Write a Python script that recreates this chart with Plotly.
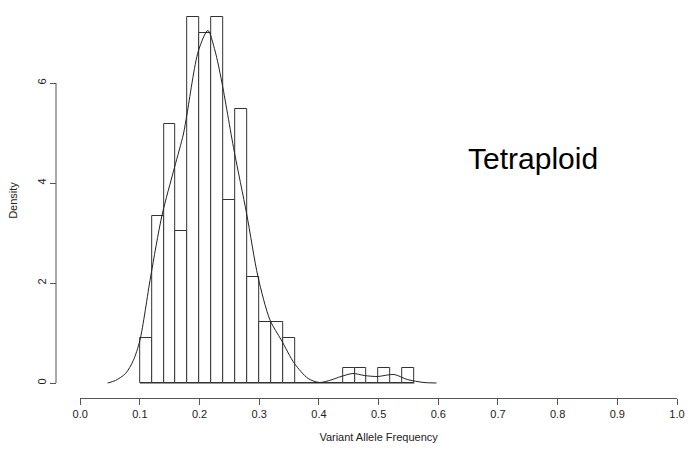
import plotly.graph_objects as go

# Histogram bins (left edges) and density heights
bin_width = 0.02
bin_left = [0.10, 0.12, 0.14, 0.16, 0.18, 0.20, 0.22, 0.24, 0.26, 0.28, 0.30,
            0.32, 0.34, 0.36, 0.38, 0.40, 0.42, 0.44, 0.46, 0.48, 0.50, 0.52, 0.54]
bin_density = [0.91, 3.35, 5.18, 3.05, 7.32, 7.01, 7.32, 3.66, 5.49, 2.13, 1.22,
               1.22, 0.91, 0.0, 0.0, 0.0, 0.0, 0.30, 0.30, 0.0, 0.30, 0.0, 0.30]

# Kernel density curve
kde_x = [0.046, 0.059, 0.076, 0.089, 0.100, 0.118, 0.137, 0.158, 0.173, 0.179,
         0.198, 0.214, 0.226, 0.237, 0.258, 0.279, 0.298, 0.318, 0.337, 0.359,
         0.382, 0.401, 0.420, 0.437, 0.457, 0.476, 0.498, 0.526, 0.548, 0.576, 0.597]
kde_y = [0.0, 0.05, 0.19, 0.45, 0.85, 2.12, 3.35, 4.31, 4.98, 5.38,
         6.64, 7.05, 6.64, 6.04, 4.64, 3.38, 2.12, 1.26, 0.86, 0.39,
         0.09, 0.01, 0.06, 0.13, 0.19, 0.15, 0.13, 0.17, 0.07, 0.01, 0.0]

x_ticks = [0.0, 0.1, 0.2, 0.3, 0.4, 0.5, 0.6, 0.7, 0.8, 0.9, 1.0]
y_ticks = [0, 2, 4, 6]

label_text = "Tetraploid"
x_title = "Variant Allele Frequency"
y_title = "Density"

W, H = 688, 452
ml, mr, mt, mb = 56, 8, 3, 54
plot_w = W - ml - mr
x0_px = 80.3 - ml
x_dom_start = x0_px / plot_w

fig = go.Figure()

bin_mid = [l + bin_width / 2 for l in bin_left]
fig.add_trace(go.Bar(
    x=bin_mid, y=bin_density, width=[bin_width] * len(bin_mid),
    marker=dict(color="white", line=dict(color="#333333", width=1)),
    hoverinfo="skip", showlegend=False,
))
# baseline across all bins (zero-height rectangles)
fig.add_trace(go.Scatter(
    x=[bin_left[0], bin_left[-1] + bin_width], y=[0, 0], mode="lines",
    line=dict(color="#333333", width=1), showlegend=False, hoverinfo="skip",
))
fig.add_trace(go.Scatter(
    x=kde_x, y=kde_y, mode="lines", line=dict(color="#222222", width=1, shape="spline", smoothing=0.8),
    showlegend=False, hoverinfo="skip",
))

font_family = "Liberation Sans, Arial, sans-serif"

fig.update_layout(
    width=W, height=H,
    margin=dict(l=ml, r=mr, t=mt, b=mb),
    plot_bgcolor="white", paper_bgcolor="white",
    bargap=0,
    font=dict(family=font_family, size=11, color="#222222"),
    xaxis=dict(
        domain=[x_dom_start, 1], range=[x_ticks[0], x_ticks[-1]],
        tickvals=x_ticks, ticktext=[f"{t:.1f}" for t in x_ticks],
        ticks="outside", ticklen=6, tickcolor="#555555",
        showline=True, linecolor="#555555", linewidth=1,
        showgrid=False, zeroline=False,
        tickfont=dict(size=11),
        title=dict(text=x_title, font=dict(size=11), standoff=14),
    ),
    yaxis=dict(
        anchor="free", position=0, range=[-0.3, 7.6],
        tickvals=y_ticks, ticktext=[str(t) for t in y_ticks],
        ticks="outside", ticklen=6, tickcolor="#555555",
        tickangle=-90, showline=False, showgrid=False, zeroline=False,
        tickfont=dict(size=11),
        title=dict(text=y_title, font=dict(size=11), standoff=14),
    ),
    shapes=[dict(type="line", xref="paper", yref="y", x0=0, x1=0,
                 y0=y_ticks[0], y1=y_ticks[-1],
                 line=dict(color="#555555", width=1))],
    annotations=[dict(x=0.758, y=4.5, xref="x", yref="y", text=label_text,
                      showarrow=False, font=dict(size=30, color="black", family=font_family))],
)

fig.write_html("out.html")
